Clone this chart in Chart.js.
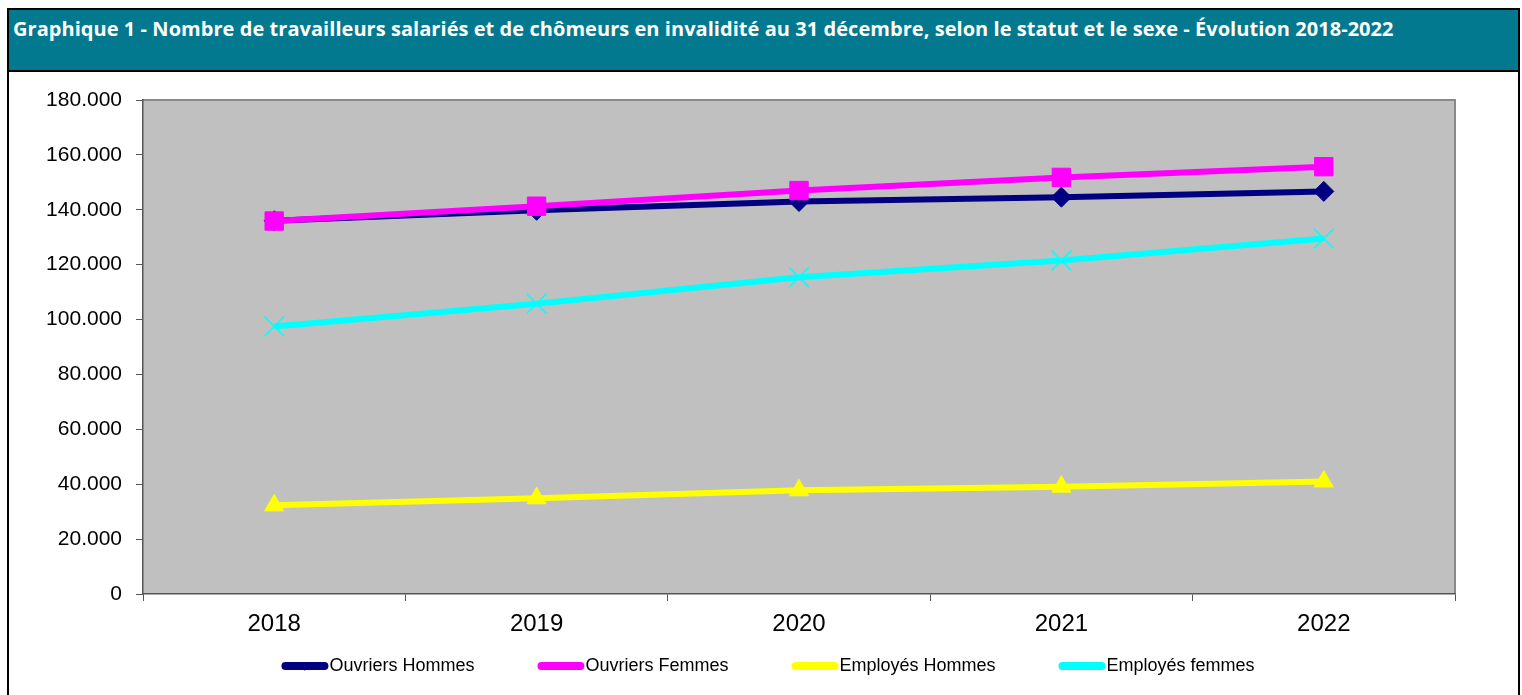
<!DOCTYPE html>
<html>
<head>
<meta charset="utf-8">
<script src="https://cdn.jsdelivr.net/npm/chart.js@4/dist/chart.umd.min.js"></script>
<style>
  html, body { margin: 0; padding: 0; background: #fff; }
  body { width: 1522px; height: 695px; position: relative; overflow: hidden; }
  #frame {
    position: absolute; left: 7px; top: 8px; width: 1513px; height: 700px;
    border: 2px solid #000; box-sizing: border-box; pointer-events: none; z-index: 2;
  }
  #titleBar {
    position: absolute; left: 7px; top: 8px; width: 1513px; height: 64px;
    background: #02798f; border: 2px solid #000; box-sizing: border-box; z-index: 3;
  }
  #titleBar span {
    position: absolute; left: 4px; top: 5px; line-height: 20px;
    font: bold 20px "Open Sans", "Noto Sans", sans-serif; color: #fff; white-space: nowrap;
    letter-spacing: 0.05px;
  }
  #chartBox { position: absolute; left: 0; top: 73px; width: 1522px; height: 622px; }
</style>
</head>
<body>
<div id="titleBar"><span>Graphique 1 - Nombre de travailleurs salariés et de chômeurs en invalidité au 31 décembre, selon le statut et le sexe - Évolution 2018-2022</span></div>
<div id="frame"></div>
<div id="chartBox"><canvas id="invaliditeChart"></canvas></div>
<script>
const years = ['2018', '2019', '2020', '2021', '2022'];
const ouvriersHommes = [136000, 139800, 143000, 144600, 146700];
const ouvriersFemmes = [135900, 141300, 147000, 151800, 155700];
const employesHommes = [32300, 34900, 37800, 39100, 41000];
const employesFemmes = [97500, 105800, 115400, 121500, 129500];
const yTicks = [0, 20000, 40000, 60000, 80000, 100000, 120000, 140000, 160000, 180000];

const ctx = document.getElementById('invaliditeChart').getContext('2d');

// fond gris de la zone de tracé + bord haut/droite
const plotBackground = {
    id: 'plotBackground',
    beforeDraw(chart) {
        const a = chart.chartArea;
        const c = chart.ctx;
        c.save();
        c.fillStyle = '#c0c0c0';
        c.fillRect(a.left, a.top, a.right - a.left, a.bottom - a.top);
        c.strokeStyle = '#8a8a8a';
        c.lineWidth = 2;
        c.beginPath();
        c.moveTo(a.left, a.top);
        c.lineTo(a.right, a.top);
        c.lineTo(a.right, a.bottom);
        c.stroke();
        c.restore();
    }
};

// légende en bas, façon Excel (trait épais + marqueur)
const bottomLegend = {
    id: 'bottomLegend',
    afterDraw(chart) {
        const c = chart.ctx;
        const swatchW = 47, gap = 63, y = 593;
        c.save();
        c.font = '18px "Liberation Sans", Arial, sans-serif';
        const items = chart.data.datasets.map(ds => ({ ds, w: swatchW + 1 + c.measureText(ds.label).width }));
        const total = items.reduce((s, it) => s + it.w, 0) + gap * (items.length - 1);
        let x = chart.width / 2 + 7 - total / 2;
        items.forEach(it => {
            const ds = it.ds;
            c.strokeStyle = ds.borderColor;
            c.lineWidth = 8;
            c.lineCap = 'round';
            c.beginPath();
            c.moveTo(x + 4, y);
            c.lineTo(x + swatchW - 4, y);
            c.stroke();
            c.fillStyle = ds.borderColor;
            c.lineWidth = 1;
            Chart.helpers.drawPoint(c, { pointStyle: ds.pointStyle, radius: 4, borderWidth: 1, rotation: 0 }, x + swatchW / 2, y);
            c.fillStyle = '#000';
            c.textBaseline = 'middle';
            c.textAlign = 'left';
            c.fillText(ds.label, x + swatchW + 1, y);
            x += it.w + gap;
        });
        c.restore();
    }
};

const chart = new Chart(ctx, {
    type: 'line',
    data: {
        labels: years,
        datasets: [{
            label: 'Ouvriers Hommes',
            data: ouvriersHommes,
            borderColor: '#000080',
            backgroundColor: '#000080',
            borderWidth: 6,
            pointStyle: 'rectRot',
            pointRadius: 10,
            pointBorderWidth: 1,
            order: 1
        }, {
            label: 'Ouvriers Femmes',
            data: ouvriersFemmes,
            borderColor: '#ff00ff',
            backgroundColor: '#ff00ff',
            borderWidth: 6,
            pointStyle: 'rect',
            pointRadius: 13,
            pointBorderWidth: 1,
            order: 0
        }, {
            label: 'Employés Hommes',
            data: employesHommes,
            borderColor: '#ffff00',
            backgroundColor: '#ffff00',
            borderWidth: 6,
            pointStyle: 'triangle',
            pointRadius: 11,
            pointBorderWidth: 1,
            order: 0
        }, {
            label: 'Employés femmes',
            data: employesFemmes,
            borderColor: '#00ffff',
            backgroundColor: '#00ffff',
            borderWidth: 6,
            pointStyle: 'crossRot',
            pointRadius: 14,
            pointBorderWidth: 1.5,
            order: 0
        }]
    },
    options: {
        responsive: true,
        maintainAspectRatio: false,
        animation: false,
        layout: { padding: { top: 27, right: 67, bottom: 51, left: 0 } },
        plugins: {
            legend: { display: false },
            tooltip: { enabled: false }
        },
        scales: {
            x: {
                offset: true,
                grid: { offset: true, drawOnChartArea: false, drawTicks: true, tickLength: 7, color: '#555' },
                border: { display: true, color: '#555', width: 1.5 },
                ticks: { color: '#000', padding: 9, font: { family: '"Liberation Sans", Arial, sans-serif', size: 24 } },
                afterFit(scale) { scale.height = 50; }
            },
            y: {
                min: 0,
                max: 180000,
                afterBuildTicks(scale) { scale.ticks = yTicks.map(v => ({ value: v })); },
                grid: { drawOnChartArea: false, drawTicks: true, tickLength: 7, color: '#555' },
                border: { display: true, color: '#555', width: 1.5 },
                ticks: {
                    color: '#000',
                    padding: 14,
                    font: { family: '"Liberation Sans", Arial, sans-serif', size: 21 },
                    callback: v => v === 0 ? '0' : v.toLocaleString('de-DE')
                },
                afterFit(scale) { scale.width = 143; }
            }
        }
    },
    plugins: [plotBackground, bottomLegend]
});
</script>
</body>
</html>
